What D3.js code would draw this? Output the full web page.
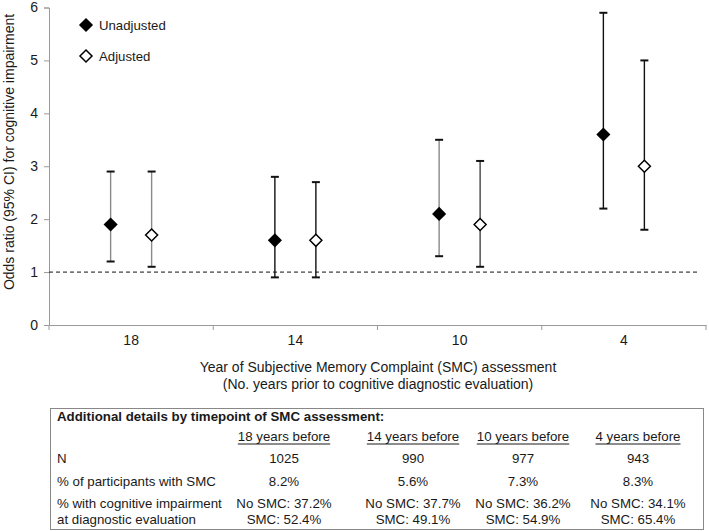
<!DOCTYPE html>
<html><head><meta charset="utf-8">
<script src="https://cdn.jsdelivr.net/npm/d3@7"></script>
<style>body{margin:0;background:#fff}svg{display:block}text{font-family:"Liberation Sans",Arial,sans-serif;fill:#1a1a1a}</style>
</head><body><svg id="c" width="709" height="531"></svg>
<script>
const categories = ["18","14","10","4"];
const unadjOR = [1.9,1.6,2.1,3.6];
const unadjLo = [1.2,0.9,1.3,2.2];
const unadjHi = [2.9,2.8,3.5,5.9];
const adjOR = [1.7,1.6,1.9,3.0];
const adjLo = [1.1,0.9,1.1,1.8];
const adjHi = [2.9,2.7,3.1,5.0];
const yTicks = [0,1,2,3,4,5,6];
const refLine = 1;
const tableHeaders = ["18 years before","14 years before","10 years before","4 years before"];
const tableN = ["1025","990","977","943"];
const tablePctSMC = ["8.2%","5.6%","7.3%","8.3%"];
const tableNoSMC = ["No SMC: 37.2%","No SMC: 37.7%","No SMC: 36.2%","No SMC: 34.1%"];
const tableSMC = ["SMC: 52.4%","SMC: 49.1%","SMC: 54.9%","SMC: 65.4%"];

const unadjBarColor = ["#8a8a8a","#111","#8a8a8a","#111"];
const adjBarColor = ["#8a8a8a","#111","#444","#111"];

const svg = d3.select("#c");
const x = d3.scaleBand().domain(categories).range([49,706]);
const y = d3.scaleLinear().domain([0,6]).range([325,7.5]);
const axisCol = "#9a9a9a";

// y axis
const ya = svg.append("g").attr("transform","translate(49,0)").call(d3.axisLeft(y).tickValues(yTicks).tickSize(5).tickPadding(6).tickFormat(d3.format("d")));
ya.select(".domain").attr("stroke",axisCol);
ya.selectAll(".tick line").attr("stroke",axisCol);
ya.selectAll("text").style("font-size","14px").attr("font-family","Liberation Sans, Arial").attr("fill","#1a1a1a");

// x axis
const xa = svg.append("g").attr("transform","translate(0,325)").call(d3.axisBottom(x).tickSize(0).tickPadding(10));
xa.select(".domain").attr("stroke",axisCol);
xa.selectAll(".tick line").remove();
xa.selectAll("text").style("font-size","14px").attr("font-family","Liberation Sans, Arial").attr("fill","#1a1a1a");
// boundary ticks
const bounds = categories.map(c=>x(c)).concat([x.range()[1]]);
svg.append("g").selectAll("line").data(bounds).join("line")
  .attr("x1",d=>d).attr("x2",d=>d).attr("y1",325).attr("y2",330).attr("stroke",axisCol);

// reference line
svg.append("line").attr("x1",49).attr("x2",700).attr("y1",y(refLine)).attr("y2",y(refLine))
  .attr("stroke","#111").attr("stroke-dasharray","4,3").attr("stroke-width",1);

// axis titles
svg.append("text").attr("transform",`translate(9,152) rotate(-90)`).attr("text-anchor","middle")
  .attr("dy","0.35em").style("font-size","14px").text("Odds ratio (95% CI) for cognitive impairment");
svg.append("text").attr("x",378).attr("y",372).attr("text-anchor","middle").style("font-size","14px")
  .text("Year of Subjective Memory Complaint (SMC) assessment");
svg.append("text").attr("x",378).attr("y",389).attr("text-anchor","middle").style("font-size","14px")
  .text("(No. years prior to cognitive diagnostic evaluation)");

const diamond = (cx,cy,h)=>`M${cx},${cy-h}L${cx+h},${cy}L${cx},${cy+h}L${cx-h},${cy}Z`;
function series(ors,lo,hi,off,fill,colors){
  const g = svg.append("g");
  categories.forEach((c,i)=>{
    const cx = x(c)+x.bandwidth()/2+off;
    g.append("line").attr("x1",cx).attr("x2",cx).attr("y1",y(lo[i])).attr("y2",y(hi[i])).attr("stroke",colors[i]).attr("stroke-width",1.4);
    [lo[i],hi[i]].forEach(v=>g.append("line").attr("x1",cx-4).attr("x2",cx+4).attr("y1",y(v)).attr("y2",y(v)).attr("stroke","#111").attr("stroke-width",2));
    g.append("path").attr("d",diamond(cx,y(ors[i]),6)).attr("fill",fill).attr("stroke","#000").attr("stroke-width",1.5);
  });
}
series(unadjOR,unadjLo,unadjHi,-20.5,"#000",unadjBarColor);
series(adjOR,adjLo,adjHi,20.5,"#fff",adjBarColor);

// legend
svg.append("path").attr("d",diamond(86,25,6)).attr("fill","#000").attr("stroke","#000").attr("stroke-width",1.5);
svg.append("text").attr("x",99).attr("y",25).attr("dy","0.35em").style("font-size","13.2px").text("Unadjusted");
svg.append("path").attr("d",diamond(86,56,6)).attr("fill","#fff").attr("stroke","#000").attr("stroke-width",1.5);
svg.append("text").attr("x",99).attr("y",56).attr("dy","0.35em").style("font-size","13.2px").text("Adjusted");

// table
const tg = svg.append("g");
tg.append("rect").attr("x",50.5).attr("y",408.5).attr("width",653).attr("height",121).attr("fill","none").attr("stroke","#888").attr("stroke-width",1);
const fs = "13.3px";
tg.append("text").attr("x",57).attr("y",416).attr("dy","0.35em").style("font-size",fs).style("font-weight","bold").text("Additional details by timepoint of SMC assessment:");
const colX = [284,413,523,638];
tableHeaders.forEach((t,i)=>{
  const tx = tg.append("text").attr("x",colX[i]).attr("y",436).attr("dy","0.35em").attr("text-anchor","middle").style("font-size",fs).text(t);
  const w = tx.node().getComputedTextLength();
  tg.append("line").attr("x1",colX[i]-w/2).attr("x2",colX[i]+w/2).attr("y1",444).attr("y2",444).attr("stroke","#1a1a1a").attr("stroke-width",1);
});
const rows = [["N",458,tableN],["% of participants with SMC",481,tablePctSMC]];
rows.forEach(([lab,ry,vals])=>{
  tg.append("text").attr("x",57).attr("y",ry).attr("dy","0.35em").style("font-size",fs).text(lab);
  vals.forEach((v,i)=>tg.append("text").attr("x",colX[i]).attr("y",ry).attr("dy","0.35em").attr("text-anchor","middle").style("font-size",fs).text(v));
});
tg.append("text").attr("x",57).attr("y",503).attr("dy","0.35em").style("font-size",fs).text("% with cognitive impairment");
tg.append("text").attr("x",57).attr("y",519).attr("dy","0.35em").style("font-size",fs).text("at diagnostic evaluation");
tableNoSMC.forEach((v,i)=>tg.append("text").attr("x",colX[i]).attr("y",503).attr("dy","0.35em").attr("text-anchor","middle").style("font-size",fs).text(v));
tableSMC.forEach((v,i)=>tg.append("text").attr("x",colX[i]).attr("y",519).attr("dy","0.35em").attr("text-anchor","middle").style("font-size",fs).text(v));
</script></body></html>
